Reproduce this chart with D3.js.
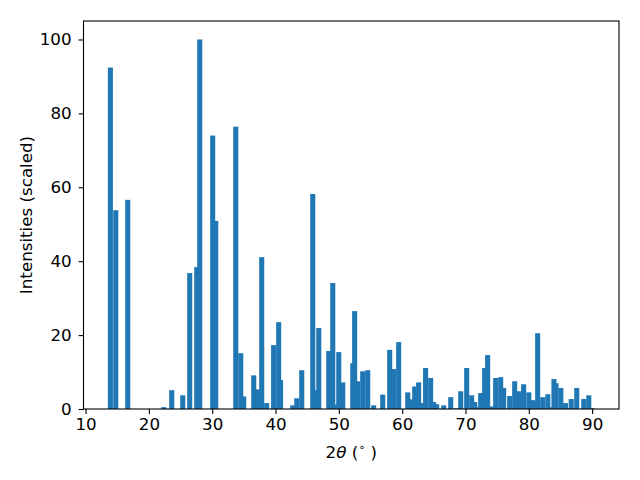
<!doctype html>
<html>
<head>
<meta charset="utf-8"/>
<title>XRD pattern</title>
<script src="https://d3js.org/d3.v7.min.js"></script>
<style>
body{margin:0;background:#fff;}
text{font-family:"DejaVu Sans",sans-serif;}
</style>
</head>
<body>
<script type="text/javascript">
// peak positions (2theta) and scaled intensities
var twoTheta = [13.92,14.77,16.66,22.35,23.61,25.35,26.45,27.56,28.03,30.08,30.56,33.72,34.51,34.98,
  36.56,37.27,37.82,38.6,39.7,40.5,40.8,42.72,43.35,44.14,45.88,46.4,46.83,48.41,49.04,49.5,49.99,50.62,
  52.2,52.5,53.0,53.77,54.56,55.5,56.93,58.03,58.66,59.45,60.88,61.5,61.98,62.6,63.1,63.7,64.5,64.97,
  65.45,66.56,67.67,68.6,69.25,70.19,70.98,71.46,71.9,72.4,73.03,73.5,74.1,74.77,75.56,76.03,76.98,77.77,
  78.1,78.5,79.19,80.0,80.6,80.9,81.4,81.9,82.2,83.0,83.4,83.97,84.3,85.06,85.8,86.4,86.7,87.57,88.68,
  89.47,90.0];
var intensity = [92.4,53.8,56.6,0.5,5.1,3.7,36.8,38.4,100,74.0,50.9,76.4,15.1,3.4,
  9.1,5.3,41.1,1.6,17.3,23.5,7.8,1.0,2.9,10.5,58.2,5.1,21.9,15.7,34.1,1.2,15.4,7.2,
  12.4,26.5,7.5,10.2,10.5,1.0,3.9,16.0,10.8,18.1,4.5,2.6,6.1,7.2,1.6,11.1,8.4,1.9,
  1.3,1.0,3.2,0.2,4.8,11.1,3.7,1.9,0.5,4.3,11.1,14.6,0.7,8.4,8.6,5.7,3.5,7.5,
  0.2,4.8,6.7,4.5,2.4,2.1,20.5,0.5,3.2,4.0,0.5,8.1,7.0,5.7,1.6,0.2,2.7,5.7,2.7,
  3.7,0.2];
var xTicks = [10,20,30,40,50,60,70,80,90];
var yTicks = [0,20,40,60,80,100];
var barWidth = 0.8;

var W = 640, H = 480;
var m = {left:83.5, right:619, top:21, bottom:409};
var fs = "16.7px";

var svg = d3.select("body").append("svg")
  .attr("width", W).attr("height", H);

// matplotlib style 5% margins
var xmin = twoTheta[0]-barWidth/2, xmax = twoTheta[twoTheta.length-1]+barWidth/2;
var pad = (xmax-xmin)*0.05;
var x = d3.scaleLinear().domain([xmin-pad, xmax+pad]).range([m.left, m.right]);
var y = d3.scaleLinear().domain([0, 105]).range([m.bottom, m.top]);

var data = twoTheta.map(function(d,i){ return {t:d, v:intensity[i]}; });

svg.append("g").selectAll("rect")
  .data(data)
  .enter()
  .append("rect")
  .attr("x", function(d){ return x(d.t-barWidth/2); })
  .attr("y", function(d){ return y(d.v); })
  .attr("width", function(d){ return x(d.t+barWidth/2)-x(d.t-barWidth/2); })
  .attr("height", function(d){ return y(0)-y(d.v); })
  .attr("fill", "#1f77b4");

var xAxis = svg.append("g")
  .attr("transform", "translate(0,"+m.bottom+")")
  .call(d3.axisBottom(x).tickValues(xTicks).tickSize(4.9).tickPadding(4.5).tickFormat(d3.format("d")));
var yAxis = svg.append("g")
  .attr("transform", "translate("+m.left+",0)")
  .call(d3.axisLeft(y).tickValues(yTicks).tickSize(4.9).tickPadding(7).tickFormat(d3.format("d")));

[xAxis, yAxis].forEach(function(g){
  g.select(".domain").remove();
  g.selectAll("line").attr("stroke","#000").attr("stroke-width",1.1);
  g.selectAll("text").attr("font-size",fs).attr("fill","#000")
    .attr("font-family","DejaVu Sans");
});

// frame
svg.append("rect")
  .attr("x", m.left).attr("y", m.top)
  .attr("width", m.right-m.left).attr("height", m.bottom-m.top)
  .attr("fill","none").attr("stroke","#000").attr("stroke-width",1.1);

// axis labels
var xl = svg.append("text")
  .attr("x", (m.left+m.right)/2).attr("y", 458)
  .attr("text-anchor","middle").attr("font-size",fs);
xl.append("tspan").text("2");
xl.append("tspan").attr("font-style","italic").text("θ");
xl.append("tspan").text(" (");
xl.append("tspan").attr("font-size","11px").attr("dy",-7).text("∘");
xl.append("tspan").attr("dy",7).text(" )");

svg.append("text")
  .attr("transform","translate(32,"+((m.top+m.bottom)/2)+") rotate(-90)")
  .attr("text-anchor","middle").attr("font-size",fs)
  .text("Intensities (scaled)");
</script>
</body>
</html>
